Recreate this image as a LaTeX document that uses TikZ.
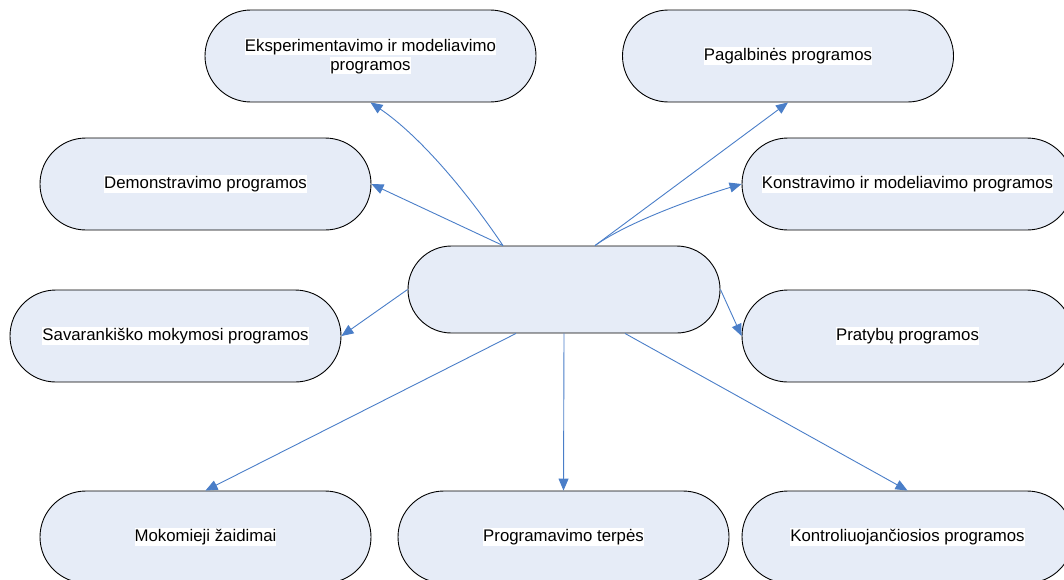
\documentclass[tikz,border=0pt]{standalone}
\usepackage{fontspec}
\setmainfont{Liberation Sans}
\usetikzlibrary{arrows.meta}
\definecolor{boxfill}{RGB}{230,236,247}
\definecolor{linkblue}{RGB}{74,126,200}
\newcommand\hlt[1]{{\setlength\fboxsep{0pt}\colorbox{white}{\rule[-0.22em]{0pt}{1.02em}#1}}}
\begin{document}
\begin{tikzpicture}[x=1pt,y=-1pt,
  pill/.style={draw=black, line width=0.9pt, fill=boxfill, rectangle,
    rounded corners=45.9pt, minimum width=331pt, minimum height=92pt,
    inner sep=0pt, align=center, font=\fontsize{16.8}{18.5}\selectfont},
  hub/.style={pill, rounded corners=43.4pt, minimum width=312pt, minimum height=87pt},
  link/.style={draw=linkblue, line width=0.9pt, -{Triangle[length=12pt,width=10pt]}}]
\useasboundingbox (0,0) rectangle (1064,579);
\node[hub] (c) at (564,289.5) {};
\node[pill] (eks) at (370.5,56) {\hlt{Eksperimentavimo ir modeliavimo}\\\hlt{programos}};
\node[pill] (pag) at (788,56) {\hlt{Pagalbinės programos}};
\node[pill] (dem) at (205.5,184) {\hlt{Demonstravimo programos}};
\node[pill] (kon) at (907.5,184) {\hlt{Konstravimo ir modeliavimo programos}};
\node[pill] (sav) at (175.5,336) {\hlt{Savarankiško mokymosi programos}};
\node[pill] (pr) at (907.5,336) {\hlt{Pratybų programos}};
\node[pill] (mok) at (205.5,537) {\hlt{Mokomieji žaidimai}};
\node[pill] (prg) at (563.5,537) {\hlt{Programavimo terpės}};
\node[pill] (kont) at (907.5,537) {\hlt{Kontroliuojančiosios programos}};
\draw[link] ([xshift=-61pt]c.north) .. controls +(-44.7,-66) and +(42.7,28.9) .. (eks.south);
\draw[link] ([xshift=-61pt]c.north) -- (dem.east);
\draw[link] ([xshift=31pt]c.north) -- (pag.south);
\draw[link] ([xshift=31pt]c.north) .. controls +(35,-25) and +(-40,12) .. (kon.west);
\draw[link] (c.east) -- (pr.west);
\draw[link] (c.west) -- (sav.east);
\draw[link] ([xshift=-48pt]c.south) -- (mok.north);
\draw[link] (c.south) -- (prg.north);
\draw[link] ([xshift=61pt]c.south) -- (kont.north);
\end{tikzpicture}
\end{document}
